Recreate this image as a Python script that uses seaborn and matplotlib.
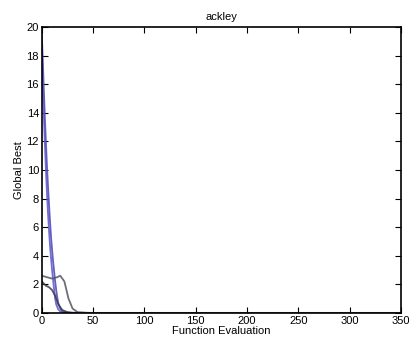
import numpy as np
import pandas as pd
import seaborn as sns
import matplotlib.pyplot as plt

# Global best per function evaluation, several runs
run_a_x = [0, 1, 2, 3, 4, 5, 6, 7, 8, 9, 10, 11, 12, 13, 14, 15, 16, 18, 20, 25, 50, 100, 200, 350]
run_a_y = [19.5, 17.5, 15.5, 13.6, 11.9, 10.3, 8.9, 7.6, 6.4, 5.3, 4.4, 3.6, 2.9, 2.2, 1.6, 1.1, 0.7, 0.3, 0.1, 0.02, 0, 0, 0, 0]
run_b_x = [0, 1, 2, 3, 4, 5, 6, 7, 8, 9, 10, 11, 12, 13, 14, 16, 18, 22, 30, 100, 350]
run_b_y = [18.8, 16.2, 13.8, 11.8, 10.0, 8.4, 7.0, 5.8, 4.7, 3.8, 3.0, 2.3, 1.6, 1.0, 0.6, 0.25, 0.1, 0.02, 0, 0, 0]
run_c_x = [0, 4, 7, 10, 13, 16, 20, 25, 30, 40, 350]
run_c_y = [2.2, 1.9, 1.8, 1.6, 1.2, 0.6, 0.2, 0.05, 0, 0, 0]
run_d_x = [0, 5, 10, 15, 18, 22, 26, 30, 35, 45, 350]
run_d_y = [2.6, 2.5, 2.4, 2.5, 2.6, 2.2, 1.0, 0.3, 0.05, 0, 0]

runs = {
    "a": (run_a_x, run_a_y),
    "b": (run_b_x, run_b_y),
    "c": (run_c_x, run_c_y),
    "d": (run_d_x, run_d_y),
}
colors = {"a": "#4a44b8", "b": "#5b55c8", "c": "#3a3a44", "d": "#55555e"}

df = pd.concat(
    [pd.DataFrame({"eval": x, "best": y, "run": name}) for name, (x, y) in runs.items()],
    ignore_index=True,
)

sns.set_style("white")
plt.rcParams["font.family"] = ["Liberation Sans", "DejaVu Sans"]
plt.rcParams["text.color"] = "black"
plt.rcParams["axes.labelcolor"] = "black"
plt.rcParams["xtick.color"] = "black"
plt.rcParams["ytick.color"] = "black"

fig = plt.figure(figsize=(4.1, 3.39), dpi=100)
ax = fig.add_axes([0.102, 0.077, 0.876, 0.843])

sns.lineplot(data=df, x="eval", y="best", hue="run", palette=colors,
             linewidth=1.3, alpha=0.85, legend=False, ax=ax, sort=False,
             estimator=None)

ax.set_xlim(0, 350)
ax.set_ylim(0, 20)
ax.set_xticks(range(0, 351, 50))
ax.set_yticks(range(0, 21, 2))
ax.set_xlabel("Function Evaluation", fontsize=8, labelpad=0)
ax.set_ylabel("Global Best", fontsize=8, labelpad=2)
ax.set_title("ackley", fontsize=8, pad=5)
ax.tick_params(direction="in", length=4, width=0.8, labelsize=8, pad=2,
               top=True, right=True, bottom=True, left=True)
for s in ax.spines.values():
    s.set_color("black")
    s.set_linewidth(1.2)

plt.savefig("out.png", dpi=100)
